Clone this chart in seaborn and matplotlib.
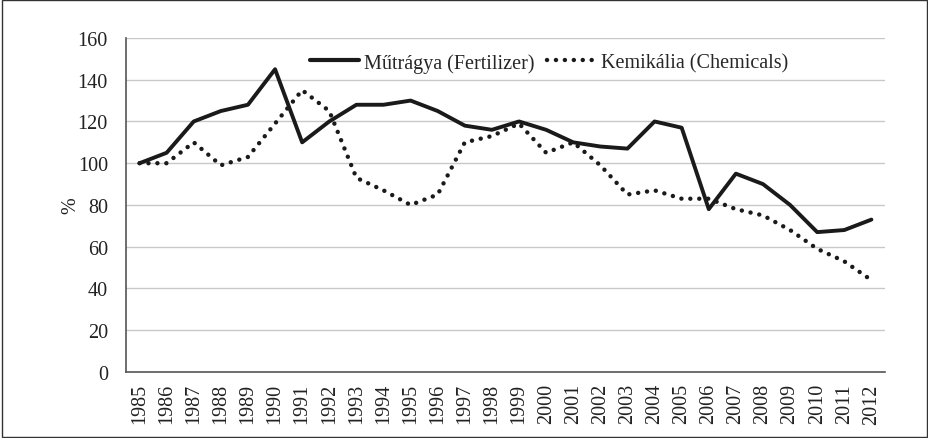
import numpy as np
import pandas as pd
import matplotlib
matplotlib.use("Agg")
import matplotlib.pyplot as plt
import seaborn as sns
from matplotlib.ticker import FixedLocator

years = [str(y) for y in range(1985, 2013)]
fertilizer = [100, 105, 120, 125, 128, 145, 110, 120, 128, 128, 130, 125, 118, 116,
              120, 116, 110, 108, 107, 120, 117, 78, 95, 90, 80, 67, 68, 73]
chemicals = [100, 100, 110, 99, 103, 119, 135, 125, 93, 87, 80, 85, 110, 113,
             119, 105, 110, 99, 85, 87, 83, 83, 78, 75, 68, 59, 53, 44]
series_names = ["Műtrágya (Fertilizer)", "Kemikália (Chemicals)"]

df = pd.DataFrame({
    "year": years * 2,
    "value": fertilizer + chemicals,
    "series": [series_names[0]] * len(years) + [series_names[1]] * len(years),
})

sns.set_style("white")
plt.rcParams["font.family"] = ["Liberation Serif", "DejaVu Serif"]

fig = plt.figure(figsize=(9.29, 4.39), dpi=100)
ax = fig.add_axes([0.1356, 0.1503, 0.817, 0.761])

dot = (0.01, 2.0)
sns.lineplot(data=df, x="year", y="value", hue="series", style="series",
             palette=["#1a1a1a", "#1a1a1a"],
             dashes={series_names[0]: "", series_names[1]: dot},
             sort=False, ax=ax, legend=False)
solid, dotted = ax.get_lines()[:2]
solid.set_linewidth(2.8)
dotted.set_linewidth(3.2)
dotted.set_dash_capstyle("round")

ax.set_xlim(-0.5, len(years) - 0.5)
ax.set_ylim(0, 160)
ax.set_yticks(range(0, 161, 20))
ax.grid(axis="y", color="#c8c8c8", linewidth=1.0)
ax.set_axisbelow(True)

ax.set_xticks(range(len(years)))
ax.set_xticklabels(years, rotation=90, fontsize=14.5, color="#222222")
ax.xaxis.set_minor_locator(FixedLocator(np.arange(-0.5, len(years), 1)))
ax.tick_params(axis="x", which="major", length=0, pad=8)
ax.tick_params(axis="x", which="minor", length=5, width=1, color="#555555", direction="out")
ax.tick_params(axis="y", length=5, width=1, color="#555555", direction="out",
               labelsize=14.5, labelcolor="#222222", pad=8)

for side in ["top", "right"]:
    ax.spines[side].set_visible(False)
for side in ["left", "bottom"]:
    ax.spines[side].set_color("#555555")
    ax.spines[side].set_linewidth(1.2)

ax.set_xlabel("")
ax.set_ylabel("%", fontsize=14.5, color="#222222", labelpad=-2)

h1 = plt.Line2D([], [], color="#1a1a1a", linewidth=3)
h2 = plt.Line2D([], [], color="#1a1a1a", linewidth=3.2, linestyle=(0, dot),
                dash_capstyle="round")
ax.legend([h1, h2], series_names, loc="center left", bbox_to_anchor=(0.218, 0.926),
          ncol=2, frameon=False, fontsize=14.5, handlelength=2.45, handletextpad=0.25,
          columnspacing=0.6)

fig.patches.append(plt.Rectangle((0.002, 0.003), 0.996, 0.994, transform=fig.transFigure,
                                 fill=False, edgecolor="#333333", linewidth=1.0))

fig.savefig("out.png", dpi=100)
